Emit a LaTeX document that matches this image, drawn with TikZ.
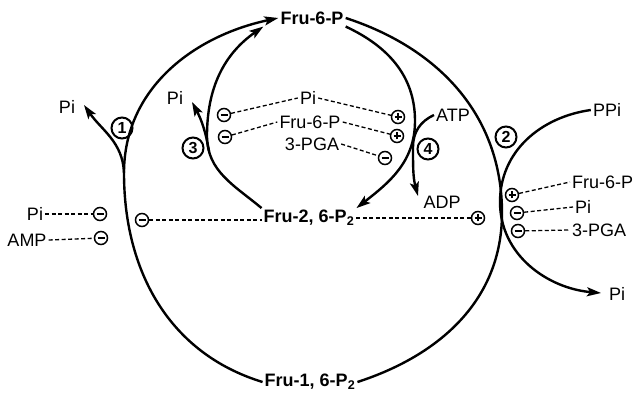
\documentclass[tikz,border=0pt]{standalone}
\usepackage{fontspec}
\setmainfont{Liberation Sans}
\usetikzlibrary{arrows.meta}
\begin{document}
\begin{tikzpicture}[x=1pt,y=1pt,
  lbl/.style={inner sep=2pt, font=\fontsize{18}{20}\selectfont},
  met/.style={inner sep=2pt, font=\fontsize{18}{20}\selectfont\bfseries},
  curve/.style={line width=2.4pt},
  arr/.style={-{Stealth[length=14pt,width=9pt,inset=3pt]}},
  dsh/.style={dash pattern=on 4pt off 2.5pt, line width=1.3pt},
  num/.style={circle, draw, line width=2pt, minimum size=21pt, inner sep=0pt,
    font=\fontsize{16}{16}\selectfont\bfseries},
  inhib/.style={circle, draw, line width=1.5pt, minimum size=13pt, inner sep=0pt,
    path picture={\draw[line width=1.6pt]
      ([xshift=-3.5pt]path picture bounding box.center) --
      ([xshift=3.5pt]path picture bounding box.center);}},
  activ/.style={circle, draw, line width=1.5pt, minimum size=13pt, inner sep=0pt,
    path picture={\draw[line width=1.6pt]
      ([xshift=-3.5pt]path picture bounding box.center) --
      ([xshift=3.5pt]path picture bounding box.center)
      ([yshift=-3.5pt]path picture bounding box.center) --
      ([yshift=3.5pt]path picture bounding box.center);}}
]
\useasboundingbox (0,0) rectangle (637,399);

% metabolites
\node[met] (F6)  at (312,381) {Fru-6-P};
\node[met] (F26) at (309,181) {Fru-2, 6-P\textsubscript{2}};
\node[met] (F16) at (310,17)  {Fru-1, 6-P\textsubscript{2}};

% side substrates and products
\node[lbl] (pi1)  at (67,292)  {Pi};
\node[lbl] (pi3)  at (175,301) {Pi};
\node[lbl] (atp)  at (453,284) {ATP};
\node[lbl] (adp)  at (442,197) {ADP};
\node[lbl] (ppi)  at (607,289) {PPi};
\node[lbl] (piout) at (617,105) {Pi};

% effectors
\node[lbl] (piL)  at (35,185)  {Pi};
\node[lbl] (amp)  at (27,159)  {AMP};
\node[lbl] (piIn) at (308,301) {Pi};
\node[lbl] (f6In) at (310,277) {Fru-6-P};
\node[lbl] (pgaIn) at (312,255) {3-PGA};
\node[lbl, anchor=west] (f6R) at (570,217) {Fru-6-P};
\node[lbl, anchor=west] (piR) at (573,192) {Pi};
\node[lbl, anchor=west] (pgaR) at (570,169) {3-PGA};

% regulation signs
\node[inhib] (nL1) at (100,185) {};
\node[inhib] (nL2) at (101,161) {};
\node[inhib] (nF26) at (142,179) {};
\node[activ] (aF26) at (478,181) {};
\node[inhib] (n31) at (224,284) {};
\node[inhib] (n32) at (225,262) {};
\node[activ] (a41) at (398,282) {};
\node[activ] (a42) at (397,263) {};
\node[inhib] (n43) at (385,241) {};
\node[activ] (a2)  at (512,204) {};
\node[inhib] (n2a) at (517,186) {};
\node[inhib] (n2b) at (518,168) {};

% enzyme numbers
\node[num] (c1) at (122,271) {1};
\node[num] (c2) at (506,262) {2};
\node[num] (c3) at (193,251) {3};
\node[num] (c4) at (428,250) {4};

% auxiliary points on the cycles
\coordinate (L)  at (124,226);
\coordinate (R)  at (502,186);
\coordinate (Li) at (207,263);
\coordinate (Ri) at (415,278);
\coordinate (b3) at (209,248);
\coordinate (b4) at (413,252);
\coordinate (T2) at (500,197);
\coordinate (t1) at (84,294);
\coordinate (t3) at ([xshift=-15pt]F6.south west);
\coordinate (t3b) at (192,297);
\coordinate (t4) at (418,203);
\coordinate (t2) at (601,106);

% outer cycle
\draw[curve,arr] (F16.west) to[out=163,in=-90] (L) to[out=90,in=192] (F6.west);
\draw[curve] (F6.east) to[out=-18,in=90] (R) to[out=-90,in=18] (F16.east);

% inner cycle
\draw[curve,arr] (F26.north west) to[out=140,in=-90] (Li) to[out=90,in=215] (t3);
\draw[curve,arr] (F6.south east) to[out=-25,in=90] (Ri) to[out=-90,in=38] (F26.north east);

% side branches
\draw[curve,arr] (L) to[out=92,in=-55] (t1);
\draw[curve,arr] (b3) to[out=100,in=-62] (t3b);
\draw[curve,arr] (atp.west) to[out=205,in=90] (b4) to[out=-90,in=105] (t4);
\draw[curve,arr] (ppi.west) to[out=188,in=90] (T2) to[out=-90,in=175] (t2);

% effector links
\draw[dsh] (piL.east) -- (nL1);
\draw[dsh] (amp.east) -- (nL2);
\draw[dsh] (nF26) -- (nF26 -| F26.west);
\draw[dsh] (F26.east |- aF26) -- (aF26);
\draw[dsh] (n31) -- (piIn.west);
\draw[dsh] (piIn.east) -- (a41);
\draw[dsh] (n32) -- (f6In.west);
\draw[dsh] (f6In.east) -- (a42);
\draw[dsh] (pgaIn.east) -- (n43);
\draw[dsh] (a2) -- (f6R.west);
\draw[dsh] (n2a) -- (piR.west);
\draw[dsh] (n2b) -- (pgaR.west);
\end{tikzpicture}
\end{document}
